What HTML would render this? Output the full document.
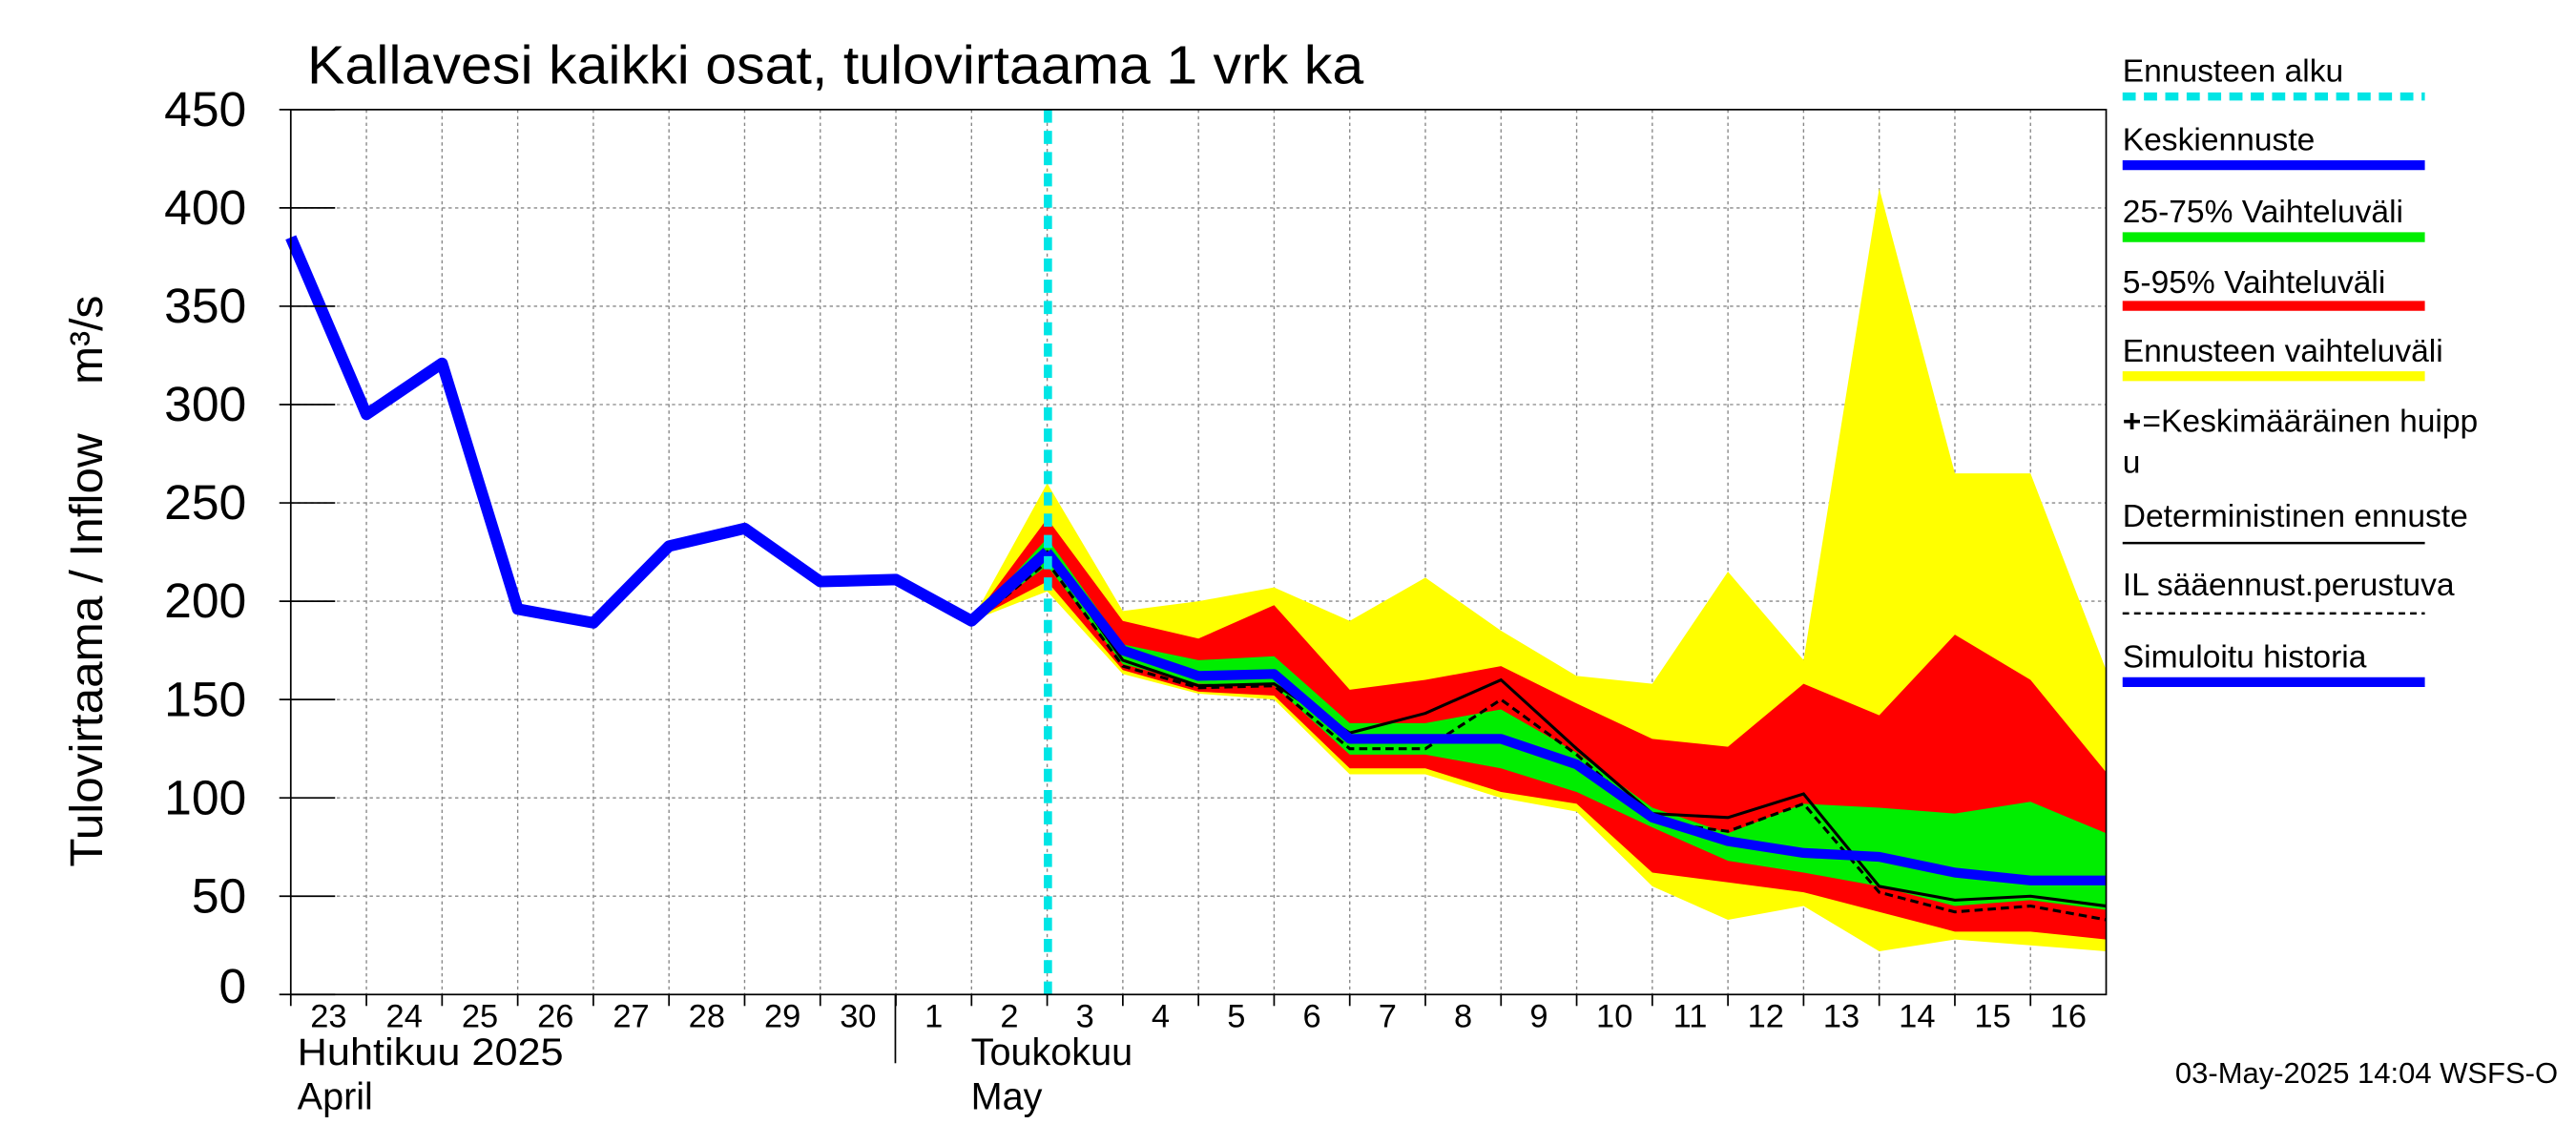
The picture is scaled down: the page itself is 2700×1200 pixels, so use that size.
<!DOCTYPE html>
<html><head><meta charset="utf-8"><style>
html,body{margin:0;padding:0;background:#fff;}
svg{display:block;font-family:"Liberation Sans",sans-serif;}
</style></head><body>
<svg id="chart" width="2700" height="1200" viewBox="0 0 1568 700" preserveAspectRatio="none" xmlns="http://www.w3.org/2000/svg" xml:space="preserve">
<rect x="0" y="0" width="1568" height="700" fill="#fff"/>
<g id="grid"></g>
<g id="bands"></g>
<g id="lines"></g>
<rect x="177" y="67" width="1105" height="541" fill="none" stroke="#000" stroke-width="1"/>
<g id="axes"></g>
<text x="187" y="51" font-size="33" textLength="643" lengthAdjust="spacingAndGlyphs">Kallavesi kaikki osat, tulovirtaama 1 vrk ka</text>
<text transform="translate(62,530) rotate(-90)" font-size="28" textLength="265" lengthAdjust="spacingAndGlyphs">Tulovirtaama / Inflow</text>
<text transform="translate(62,235) rotate(-90)" font-size="28">m³/s</text>
<text x="181" y="651" font-size="23" textLength="162" lengthAdjust="spacingAndGlyphs">Huhtikuu  2025</text>
<text x="181" y="678" font-size="23">April</text>
<text x="591" y="651" font-size="23">Toukokuu</text>
<text x="591" y="678" font-size="23">May</text>
<line x1="545" y1="608" x2="545" y2="650" stroke="#000"/>
<text x="1557" y="662" text-anchor="end" font-size="18">03-May-2025 14:04 WSFS-O</text>
<g id="legend" font-size="19.5">
<g><text x="1292" y="50">Ennusteen alku</text><line x1="1292" y1="59" x2="1476" y2="59" stroke="#00e5e5" stroke-width="5" stroke-dasharray="8,5"/></g>
<g><text x="1292" y="92">Keskiennuste</text><line x1="1292" y1="101" x2="1476" y2="101" stroke="#0000ff" stroke-width="6"/></g>
<g><text x="1292" y="136">25-75% Vaihteluväli</text><line x1="1292" y1="145" x2="1476" y2="145" stroke="#00ee00" stroke-width="6"/></g>
<g><text x="1292" y="179">5-95% Vaihteluväli</text><line x1="1292" y1="187" x2="1476" y2="187" stroke="#ff0000" stroke-width="6"/></g>
<g><text x="1292" y="221">Ennusteen vaihteluväli</text><line x1="1292" y1="230" x2="1476" y2="230" stroke="#ffff00" stroke-width="6"/></g>
<g><text x="1292" y="264" font-weight="bold">+</text><text x="1304" y="264">=Keskimääräinen huipp</text><text x="1292" y="289">u</text></g>
<g><text x="1292" y="322">Deterministinen ennuste</text><line x1="1292" y1="332" x2="1476" y2="332" stroke="#000" stroke-width="1.5"/></g>
<g><text x="1292" y="364">IL sääennust.perustuva</text><line x1="1292" y1="375" x2="1476" y2="375" stroke="#000" stroke-width="1.5" stroke-dasharray="4,3"/></g>
<g><text x="1292" y="408">Simuloitu historia</text><line x1="1292" y1="417" x2="1476" y2="417" stroke="#0000ff" stroke-width="6"/></g>
</g>
</svg>
<script>
const dayLabels=[23,24,25,26,27,28,29,30,1,2,3,4,5,6,7,8,9,10,11,12,13,14,15,16];
const yTicks=[0,50,100,150,200,250,300,350,400,450];
const histIdx=[0,1,2,3,4,5,6,7,8,9,10];
const histVals=[385,295,321,196,189,228,237,210,211,190,225];
const fcIdx=[10,11,12,13,14,15,16,17,18,19,20,21,22,23,24];
const medianVals=[225,175,162,163,130,130,130,117,90,78,72,70,62,58,58];
const bandIdx=[9,10,11,12,13,14,15,16,17,18,19,20,21,22,23,24];
const yelHi=[190,260,195,200,207,190,212,185,162,158,215,170,410,265,265,165];
const yelLo=[190,205,163,153,150,112,112,100,93,55,38,45,22,28,25,22];
const redHi=[190,242,190,181,198,155,160,167,148,130,126,158,142,183,160,113];
const redLo=[190,210,165,154,152,115,115,103,97,62,57,52,42,32,32,28];
const grnHi=[190,232,178,170,172,138,138,145,123,95,82,97,95,92,98,82];
const grnLo=[190,218,168,158,157,122,122,115,103,85,68,62,55,45,48,43];
const detIdx=[8,9,10,11,12,13,14,15,16,17,18,19,20,21,22,23,24];
const detVals=[211,190,225,170,157,158,133,143,160,125,92,90,102,55,48,50,45];
const ilVals=[211,188,220,167,156,157,125,125,150,122,88,83,97,52,42,45,38];
const forecastStart=10.01;

const NS="http://www.w3.org/2000/svg";
const X0=177,DW=(1282-177)/24,Y0=608,YS=(608-67)/450;
const xs=i=>X0+i*DW, ys=v=>Y0-v*YS;
function mk(tag,attrs,parent){const e=document.createElementNS(NS,tag);for(const k in attrs)e.setAttribute(k,attrs[k]);parent.appendChild(e);return e;}
const grid=document.getElementById('grid'),axes=document.getElementById('axes'),bands=document.getElementById('bands'),lines=document.getElementById('lines');
for(let i=1;i<24;i++){const l=mk('line',{x1:xs(i),y1:67,x2:xs(i),y2:608,stroke:'#888','stroke-width':0.8,'stroke-dasharray':'2,2'},grid);

}
yTicks.forEach(v=>{const y=ys(v);
if(v>0&&v<450){const l=mk('line',{x1:177,y1:y,x2:1282,y2:y,stroke:'#888','stroke-width':0.8,'stroke-dasharray':'2,2'},grid);

}
const t=mk('line',{x1:170,y1:y,x2:204,y2:y,stroke:'#000'},axes);


const tx=mk('text',{x:150,y:y+(v===0?5:10),'text-anchor':'end','font-size':30},axes);tx.textContent=v;

});
dayLabels.forEach((d,i)=>{const t=mk('line',{x1:xs(i),y1:608,x2:xs(i),y2:615,stroke:'#000'},axes);


const tx=mk('text',{x:xs(i)+DW/2,y:628,'text-anchor':'middle','font-size':20},axes);tx.textContent=d;

});
function band(hi,lo,col,name){let p=bandIdx.map((i,k)=>xs(i)+','+ys(hi[k]));
for(let k=bandIdx.length-1;k>=0;k--)p.push(xs(bandIdx[k])+','+ys(lo[k]));
const e=mk('polygon',{points:p.join(' '),fill:col},bands);

}
band(yelHi,yelLo,'#ffff00','forecast-range-band');
band(redHi,redLo,'#ff0000','band-5-95');
band(grnHi,grnLo,'#00ee00','band-25-75');
function line(idx,vals,attrs,name){const e=mk('polyline',Object.assign({points:idx.map((i,k)=>xs(i)+','+ys(vals[k])).join(' '),fill:'none'},attrs),lines);

}
line(detIdx,ilVals,{stroke:'#000','stroke-width':1.8,'stroke-dasharray':'5,3'},'il-forecast-line');
line(detIdx,detVals,{stroke:'#000','stroke-width':1.8},'deterministic-line');
line(histIdx,histVals,{stroke:'#0000ff','stroke-width':7,'stroke-linejoin':'round'},'history-line');
line(fcIdx,medianVals,{stroke:'#0000ff','stroke-width':6,'stroke-linejoin':'round'},'median-forecast-line');
const fs=mk('line',{x1:xs(forecastStart),y1:67,x2:xs(forecastStart),y2:608,stroke:'#00e5e5','stroke-width':5,'stroke-dasharray':'8,5'},lines);


</script>
</body></html>
